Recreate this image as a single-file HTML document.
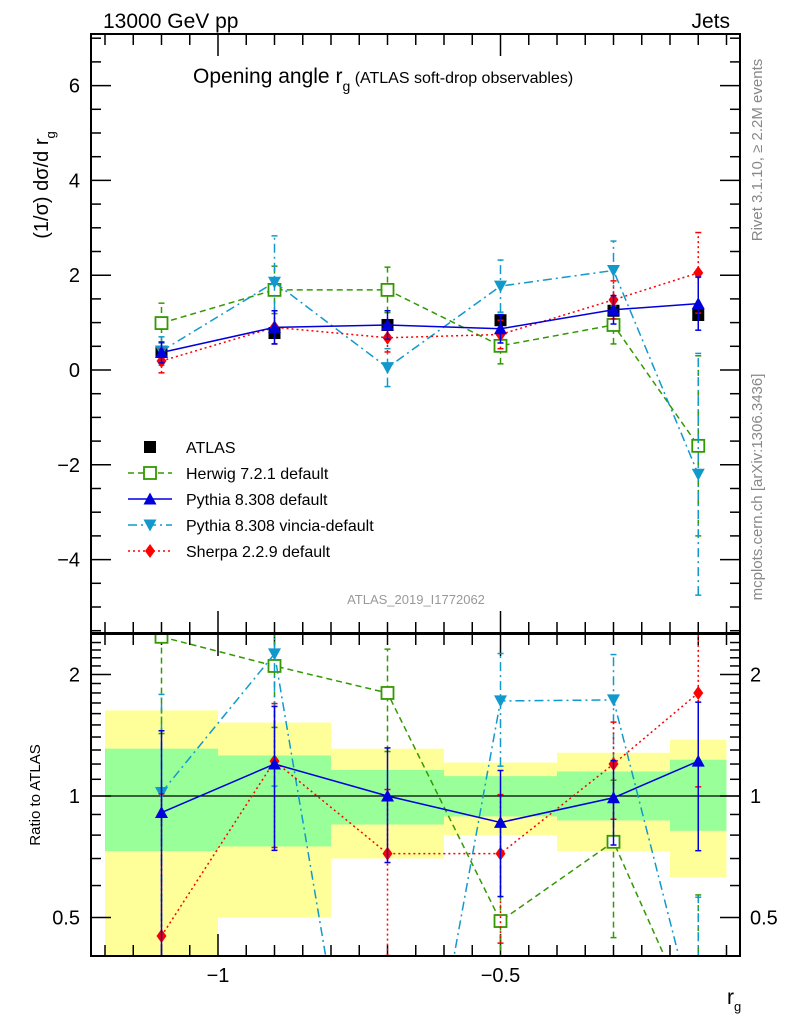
<!DOCTYPE html>
<html><head><meta charset="utf-8"><style>
html,body{margin:0;padding:0;background:#fff;width:786px;height:1024px;overflow:hidden;}
svg{display:block;font-family:"Liberation Sans",sans-serif;}
</style></head><body>
<svg id="c" width="786" height="1024" viewBox="0 0 786 1024" xmlns="http://www.w3.org/2000/svg">
<defs>
<clipPath id="cm"><rect x="91" y="34" width="649" height="599"/></clipPath>
<clipPath id="cr"><rect x="91" y="634" width="649" height="322"/></clipPath>
</defs>
<g id="bands" clip-path="url(#cr)"></g>
<g id="grid"></g>
<g id="series"></g>
<rect x="91" y="34" width="649" height="599" fill="none" stroke="#000" stroke-width="2"/>
<rect x="91" y="634" width="649" height="322" fill="none" stroke="#000" stroke-width="2"/>
<text x="103" y="28" font-size="21">13000 GeV pp</text>
<text x="730" y="28" font-size="21" text-anchor="end">Jets</text>
<text x="193" y="83" font-size="21">Opening angle r<tspan font-size="14" dy="8">g</tspan><tspan font-size="16" dy="-8"> (ATLAS soft-drop observables)</tspan></text>
<text transform="translate(48,185) rotate(-90)" font-size="20" text-anchor="middle">(1/σ) dσ/d r<tspan font-size="13" dy="7">g</tspan></text>
<text transform="translate(40,795) rotate(-90)" font-size="15" text-anchor="middle">Ratio to ATLAS</text>
<text x="727" y="1004" font-size="21">r<tspan font-size="13" dy="7">g</tspan></text>
<text transform="translate(762,150) rotate(-90)" font-size="15" fill="#888" text-anchor="middle">Rivet 3.1.10, ≥ 2.2M events</text>
<text transform="translate(762,487) rotate(-90)" font-size="15" fill="#888" text-anchor="middle">mcplots.cern.ch [arXiv:1306.3436]</text>
<text x="416" y="604" font-size="13" fill="#999" text-anchor="middle">ATLAS_2019_I1772062</text>
<g id="legend"></g>
</svg>
<script>
const categories=[-1.1,-0.9,-0.7,-0.5,-0.3,-0.15];
const binEdges=[-1.2,-1.0,-0.8,-0.6,-0.4,-0.2,-0.1];
const atlas=[0.38,0.78,0.95,1.05,1.25,1.16];
const herwig=[0.99,1.69,1.69,0.51,0.95,-1.6];
const herwigErr=[0.42,0.5,0.48,0.38,0.4,1.9];
const pythia=[0.37,0.9,0.95,0.87,1.27,1.4];
const pythiaErr=[0.22,0.35,0.3,0.3,0.3,0.56];
const vincia=[0.4,1.85,0.05,1.77,2.1,-2.2];
const vinciaErr=[0.3,0.98,0.4,0.55,0.62,2.55];
const sherpa=[0.19,0.9,0.68,0.75,1.48,2.05];
const sherpaErr=[0.25,0.35,0.3,0.3,0.4,0.85];
const rHerwig=[2.48,2.1,1.8,0.49,0.77,0.26];
const rPythia=[0.91,1.2,1.0,0.86,0.99,1.22];
const rVincia=[1.02,2.25,0.05,1.72,1.73,0.26];
const rSherpa=[0.45,1.22,0.72,0.72,1.2,1.8];
const yellowHi=[1.63,1.52,1.31,1.21,1.28,1.38];
const yellowLo=[0.3,0.5,0.7,0.8,0.73,0.63];
const greenHi=[1.31,1.26,1.16,1.12,1.15,1.23];
const greenLo=[0.73,0.75,0.85,0.89,0.87,0.82];
const yTicks=[-4,-2,0,2,4,6];
const xTicks=[-1,-0.5];
const rTicks=[0.5,1,2];
const rTickLabels=["0.5","1","2"];

const NS="http://www.w3.org/2000/svg";
const X=v=>218+(v+1)*565;
const Y=v=>370-47.4*v;
const R=r=>796-121.5*Math.log2(r);
function mk(tag,attrs,parent){const e=document.createElementNS(NS,tag);for(const k in attrs)e.setAttribute(k,attrs[k]);parent.appendChild(e);return e;}
const bands=document.getElementById('bands'),grid=document.getElementById('grid'),ser=document.getElementById('series'),leg=document.getElementById('legend');
for(let i=0;i<categories.length;i++){
 const x0=X(binEdges[i]),x1=X(binEdges[i+1]);
 let e=mk('rect',{x:x0,y:R(yellowHi[i]),width:x1-x0,height:R(yellowLo[i])-R(yellowHi[i]),fill:'#ffff99'},bands);
 
 e=mk('rect',{x:x0,y:R(greenHi[i]),width:x1-x0,height:R(greenLo[i])-R(greenHi[i]),fill:'#99ff99'},bands);
 
}
mk('line',{x1:91,x2:740,y1:R(1),y2:R(1),stroke:'#000','stroke-width':1.2},grid);
for(let v=-5.5;v<=7;v+=0.5){const y=Y(v);if(y<35||y>632)continue;const big=Number.isInteger(v/2);
 mk('line',{x1:91,x2:91+(big?20:10),y1:y,y2:y,stroke:'#000','stroke-width':1.5},grid);
 mk('line',{x1:740,x2:740-(big?20:10),y1:y,y2:y,stroke:'#000','stroke-width':1.5},grid);}
yTicks.forEach(v=>{const t=mk('text',{x:80,y:Y(v)+7,'font-size':20,'text-anchor':'end'},grid);t.textContent=v<0?'\u2212'+(-v):String(v);
 });
for(let r=0.4;r<=2.5;r+=0.1){const y=R(r);if(y<635||y>955)continue;const big=[0.5,1,2].some(a=>Math.abs(a-r)<1e-6);
 mk('line',{x1:91,x2:91+(big?20:10),y1:y,y2:y,stroke:'#000','stroke-width':1.5},grid);
 mk('line',{x1:740,x2:740-(big?20:10),y1:y,y2:y,stroke:'#000','stroke-width':1.5},grid);}
rTicks.forEach((r,i)=>{let t=mk('text',{x:80,y:R(r)+7,'font-size':20,'text-anchor':'end'},grid);t.textContent=rTickLabels[i];
 
 t=mk('text',{x:750,y:R(r)+7,'font-size':20},grid);t.textContent=rTickLabels[i];
 });
for(let v=-1.2;v<=-0.05;v+=0.05){const x=X(v);if(x<92||x>739)continue;const big=Math.abs(v+1)<1e-6||Math.abs(v+0.5)<1e-6;const L=big?22:11;
 [[34,1],[633,-1],[634,1],[956,-1]].forEach(([y,d])=>mk('line',{x1:x,x2:x,y1:y,y2:y+d*L,stroke:'#000','stroke-width':1.5},grid));}
xTicks.forEach(v=>{const t=mk('text',{x:X(v),y:982,'font-size':20,'text-anchor':'middle'},grid);t.textContent='\u2212'+(-v);
 });

function marker(g,type,x,y,c){
 if(type==='sq')return mk('rect',{x:x-6,y:y-6,width:12,height:12,fill:c},g);
 if(type==='osq')return mk('rect',{x:x-6,y:y-6,width:12,height:12,fill:'#fff',stroke:c,'stroke-width':1.8},g);
 if(type==='up')return mk('path',{d:`M${x-6.5} ${y+5.5}L${x+6.5} ${y+5.5}L${x} ${y-6.5}Z`,fill:c},g);
 if(type==='down')return mk('path',{d:`M${x-6.5} ${y-5.5}L${x+6.5} ${y-5.5}L${x} ${y+6.5}Z`,fill:c},g);
 if(type==='dia')return mk('path',{d:`M${x} ${y-7}L${x+5} ${y}L${x} ${y+7}L${x-5} ${y}Z`,fill:c},g);
}
const S=[
 {name:'herwig',c:'#339900',dash:'6,4',m:'osq',v:herwig,e:herwigErr,r:rHerwig,lab:'Herwig 7.2.1 default'},
 {name:'vincia',c:'#1199cc',dash:'9,4,2,4',m:'down',v:vincia,e:vinciaErr,r:rVincia,lab:'Pythia 8.308 vincia-default'},
 {name:'sherpa',c:'#ff0000',dash:'2,3',m:'dia',v:sherpa,e:sherpaErr,r:rSherpa,lab:'Sherpa 2.2.9 default'},
 {name:'pythia',c:'#0000dd',dash:'',m:'up',v:pythia,e:pythiaErr,r:rPythia,lab:'Pythia 8.308 default'},
];
const ga=mk('g',{},ser);
S.forEach(s=>{
 const g=mk('g',{'clip-path':'url(#cm)'},ser);
 mk('polyline',{points:categories.map((c,i)=>X(c)+','+Y(s.v[i])).join(' '),fill:'none',stroke:s.c,'stroke-width':1.5,'stroke-dasharray':s.dash},g);
 categories.forEach((c,i)=>{const x=X(c);
  mk('line',{x1:x,x2:x,y1:Y(s.v[i]-s.e[i]),y2:Y(s.v[i]+s.e[i]),stroke:s.c,'stroke-width':1.5,'stroke-dasharray':s.dash},g);
  [s.v[i]-s.e[i],s.v[i]+s.e[i]].forEach(v=>mk('line',{x1:x-3,x2:x+3,y1:Y(v),y2:Y(v),stroke:s.c,'stroke-width':1.5},g));
  const m=marker(g,s.m,x,Y(s.v[i]),s.c);});
 const gr=mk('g',{'clip-path':'url(#cr)'},ser);
 mk('polyline',{points:categories.map((c,i)=>X(c)+','+R(s.r[i])).join(' '),fill:'none',stroke:s.c,'stroke-width':1.5,'stroke-dasharray':s.dash},gr);
 categories.forEach((c,i)=>{const x=X(c);const rr=s.r[i];const er=s.e[i]/Math.max(Math.abs(s.v[i]),0.2)*rr;
  const lo=Math.max(rr-er,0.05),hi=rr+er;
  mk('line',{x1:x,x2:x,y1:R(lo),y2:R(hi),stroke:s.c,'stroke-width':1.5,'stroke-dasharray':s.dash},gr);
  [lo,hi].forEach(v=>mk('line',{x1:x-3,x2:x+3,y1:R(v),y2:R(v),stroke:s.c,'stroke-width':1.5},gr));
  const m=marker(gr,s.m,x,R(rr),s.c);});
});
categories.forEach((c,i)=>{const m=marker(ga,'sq',X(c),Y(atlas[i]),'#000');});
const L=[{lab:'ATLAS',m:'sq',c:'#000',dash:null}].concat([S[0],S[3],S[1],S[2]].map(s=>({lab:s.lab,m:s.m,c:s.c,dash:s.dash})));
L.forEach((l,i)=>{const y=447+i*26;const g=mk('g',{},leg);
 if(l.dash!==null)mk('line',{x1:128,x2:172,y1:y,y2:y,stroke:l.c,'stroke-width':1.5,'stroke-dasharray':l.dash},g);
 marker(g,l.m,150,y,l.c);
 const t=mk('text',{x:186,y:y+6,'font-size':16},g);t.textContent=l.lab;});
</script>
</body></html>
